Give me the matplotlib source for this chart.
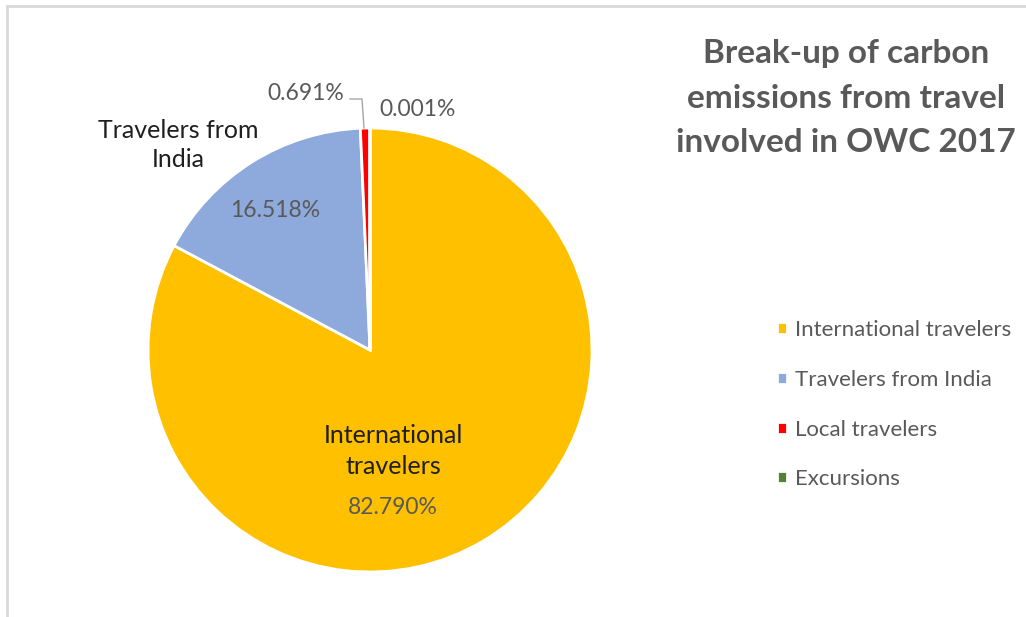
import matplotlib.pyplot as plt
from matplotlib.patches import Rectangle

plt.rcParams['font.family'] = ['Lato', 'DejaVu Sans']

# data
categories = ["International travelers", "Travelers from India", "Local travelers", "Excursions"]
shares = [82.790, 16.518, 0.691, 0.001]
colors = ["#FFC000", "#8EA9DB", "#FF0000", "#548235"]
title = "Break-up of carbon\nemissions from travel\ninvolved in OWC 2017"

W, H = 1026, 617
fig = plt.figure(figsize=(W / 100, H / 100), dpi=100)

# light grey chart frame
fig.patches.append(Rectangle((7 / W, -0.05), 1.1, (H - 6) / H + 0.05, transform=fig.transFigure,
                             fill=False, edgecolor="#D9D9D9", linewidth=2))

# pie axes: centre (370, 350) px, radius 222 px
cx, cy, r = 370, 350, 222
ax = fig.add_axes([(cx - r) / W, (H - cy - r) / H, 2 * r / W, 2 * r / H])
wedges, _ = ax.pie(shares, colors=colors, startangle=90, counterclock=False, radius=1,
                   wedgeprops=dict(edgecolor="white", linewidth=2))
ax.set_xlim(-1, 1)
ax.set_ylim(-1, 1)
ax.set_aspect("equal")
ax.axis("off")


def px(x, y):
    return (x - cx) / r, (cy - y) / r


lbl_col = "#1F1F1F"
val_col = "#595959"
ax.text(*px(393, 451), "International\ntravelers", ha="center", va="center", fontsize=18,
        color=lbl_col, linespacing=1.45)
ax.text(*px(393, 508), f"{shares[0]:.3f}%", ha="center", va="center", fontsize=16.5, color=val_col)
ax.text(*px(178, 145), "Travelers from\nIndia", ha="center", va="center", fontsize=18,
        color=lbl_col, linespacing=1.35, clip_on=False)
ax.text(*px(275, 211), f"{shares[1]:.3f}%", ha="center", va="center", fontsize=16.5, color=val_col)
ax.text(*px(306, 93), f"{shares[2]:.3f}%", ha="center", va="center", fontsize=16.5, color=val_col,
        clip_on=False)
ax.text(*px(418, 109), f"{shares[3]:.3f}%", ha="center", va="center", fontsize=16.5, color=val_col,
        clip_on=False)
# leader line for the small slice
pts = [px(350, 99), px(362, 99), px(364, 128)]
ax.plot([p[0] for p in pts], [p[1] for p in pts], color="#A6A6A6", linewidth=1, clip_on=False)

# title on the right
fig.text(846 / W, 1 - 98 / H, title, ha="center", va="center", fontsize=24, fontweight="bold",
         color="#595959", linespacing=1.63)

# legend
leg = fig.legend(wedges, categories, loc="upper left", bbox_to_anchor=(757 / W, 1 - 300 / H),
                 frameon=False, fontsize=16, handlelength=0.45, handleheight=0.45,
                 handletextpad=0.35, labelspacing=1.34)
for t in leg.get_texts():
    t.set_color("#595959")

fig.savefig("out.png", dpi=100)
